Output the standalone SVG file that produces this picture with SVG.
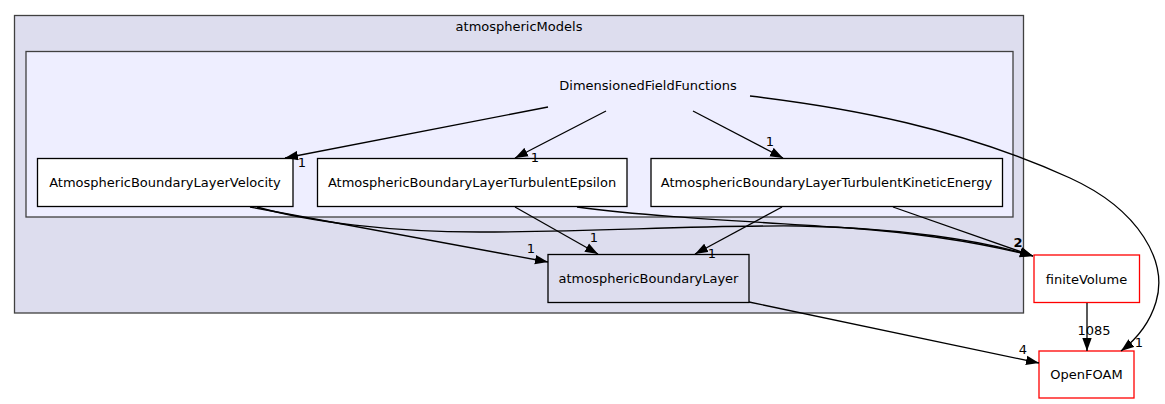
<svg xmlns="http://www.w3.org/2000/svg" width="1165" height="404" viewBox="0 0 1165 404">
<style>
text{font-family:"DejaVu Sans","Liberation Sans",sans-serif;font-size:13px;fill:#000}
.c{text-anchor:middle}
.edge{fill:none;stroke:#000;stroke-width:1.3}
.node{fill:#fff;stroke:#000;stroke-width:1.3}
.red{fill:#fff;stroke:#ff0000;stroke-width:1.3}
</style>
<defs>
<marker id="arr" markerUnits="userSpaceOnUse" markerWidth="13" markerHeight="10" refX="13" refY="5" orient="auto">
<path d="M0,0.3 L13,5 L0,9.7 z" fill="#000"/>
</marker>
</defs>
<rect width="1165" height="404" fill="#fff"/>
<g id="cluster_atmosphericModels">
<rect x="14.5" y="15.5" width="1009" height="297.5" fill="#ddddee" stroke="#404040" stroke-width="1.3"/>
<text class="c" x="519" y="31">atmosphericModels</text>
</g>
<g id="cluster_DimensionedFieldFunctions">
<rect x="26" y="51.5" width="987" height="165.5" fill="#eeeeff" stroke="#404040" stroke-width="1.3"/>
<text class="c" x="648" y="90">DimensionedFieldFunctions</text>
</g>
<g id="node_Velocity">
<rect class="node" x="37.5" y="158.5" width="255.5" height="48"/>
<text class="c" x="165" y="187">AtmosphericBoundaryLayerVelocity</text>
</g>
<g id="node_TurbulentEpsilon">
<rect class="node" x="317.5" y="158.5" width="309.5" height="48"/>
<text class="c" x="472" y="187">AtmosphericBoundaryLayerTurbulentEpsilon</text>
</g>
<g id="node_TurbulentKineticEnergy">
<rect class="node" x="651" y="158.5" width="351.5" height="48"/>
<text class="c" x="826.5" y="187">AtmosphericBoundaryLayerTurbulentKineticEnergy</text>
</g>
<g id="node_atmosphericBoundaryLayer">
<rect x="548" y="254.5" width="201" height="48" fill="#ddddee" stroke="#000" stroke-width="1.3"/>
<text class="c" x="648.5" y="283">atmosphericBoundaryLayer</text>
</g>
<g id="node_finiteVolume">
<rect class="red" x="1034" y="255" width="105.5" height="47.5"/>
<text class="c" x="1086.5" y="283.5">finiteVolume</text>
</g>
<g id="node_OpenFOAM">
<rect class="red" x="1039" y="351" width="95" height="47"/>
<text class="c" x="1086.5" y="379">OpenFOAM</text>
</g>
<g id="connectors">
<path class="edge" marker-end="url(#arr)" d="M548,107 L285,158"/>
<path class="edge" marker-end="url(#arr)" d="M606,111 L515,158"/>
<path class="edge" marker-end="url(#arr)" d="M693,111 L783,158"/>
<path class="edge" marker-end="url(#arr)" d="M750,96 C850,108 960,128 1070,178 C1140,210 1168,262 1156,302 C1150,322 1138,338 1121,351"/>
<path class="edge" marker-end="url(#arr)" d="M250,207 L548,262"/>
<path class="edge" marker-end="url(#arr)" d="M257,207 C310,222 390,232 480,232 C600,232 690,225 800,226 C900,228 980,240 1033,256"/>
<path class="edge" marker-end="url(#arr)" d="M577,207 C650,217 760,222 850,228 C930,234 990,245 1033,256"/>
<path class="edge" marker-end="url(#arr)" d="M893,207 L1033,256"/>
<path class="edge" marker-end="url(#arr)" d="M515,207 L598,254"/>
<path class="edge" marker-end="url(#arr)" d="M782,207 L695,254"/>
<path class="edge" marker-end="url(#arr)" d="M749,302 L1039,363"/>
<path class="edge" marker-end="url(#arr)" d="M1087,303 L1087,351"/>
<text class="c" x="302" y="167">1</text>
<text class="c" x="535" y="162">1</text>
<text class="c" x="770" y="146">1</text>
<text class="c" x="1139" y="347">1</text>
<text class="c" x="531" y="253">1</text>
<text class="c" x="594" y="242">1</text>
<text class="c" x="712" y="258">1</text>
<text class="c" x="1018" y="247" font-weight="bold">2</text>
<text class="c" x="1023" y="354">4</text>
<text class="c" x="1094" y="335">1085</text>
</g>
</svg>
